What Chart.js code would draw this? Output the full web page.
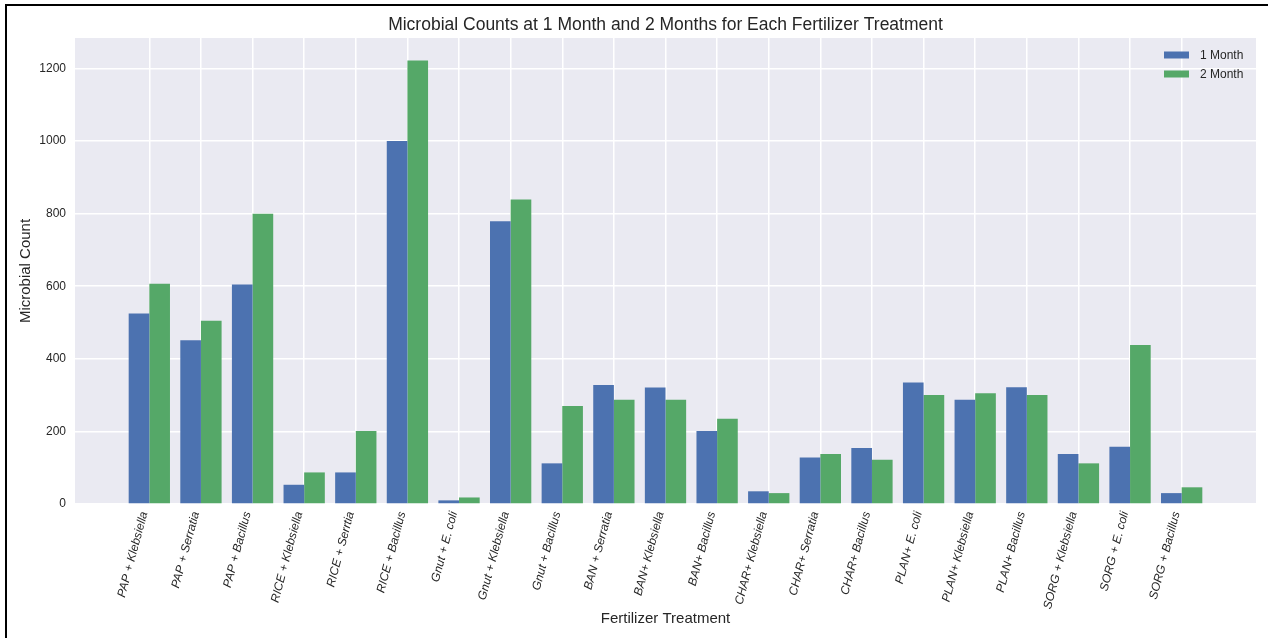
<!DOCTYPE html>
<html>
<head>
<meta charset="utf-8">
<script src="https://cdn.jsdelivr.net/npm/chart.js@4.4.1/dist/chart.umd.min.js"></script>
<style>
  html, body { margin: 0; padding: 0; background: #ffffff; }
  #wrap { position: relative; width: 1268px; height: 638px; }
  #frame { position: absolute; left: 5px; top: 4px; right: -10px; bottom: -10px; border-left: 2.5px solid #000; border-top: 2.5px solid #000; pointer-events: none; }
  canvas { position: absolute; left: 0; top: 0; }
</style>
</head>
<body>
<div id="wrap">
  <canvas id="c" width="1268" height="638"></canvas>
  <div id="frame"></div>
</div>
<script>
const categories = [
  'PAP + Klebsiella', 'PAP + Serratia', 'PAP + Bacillus',
  'RICE + Klebsiella', 'RICE + Serrtia', 'RICE + Bacillus',
  'Gnut + E. coli', 'Gnut + Klebsiella', 'Gnut + Bacillus',
  'BAN + Serratia', 'BAN+ Klebsiella', 'BAN+ Bacillus',
  'CHAR+ Klebsiella', 'CHAR+ Serratia', 'CHAR+ Bacillus',
  'PLAN+ E. coli', 'PLAN+ Klebsiella', 'PLAN+ Bacillus',
  'SORG + Klebsiella', 'SORG + E. coli', 'SORG + Bacillus'
];
const month1 = [525, 451, 605, 53, 87, 1000, 10, 779, 112, 328, 321, 201, 35, 128, 154, 335, 287, 322, 138, 158, 30];
const month2 = [607, 505, 800, 87, 201, 1222, 18, 839, 270, 287, 287, 235, 30, 138, 122, 300, 305, 300, 112, 438, 46];
const seriesNames = ['1 Month', '2 Month'];
const seriesColors = ['#4C72B0', '#55A868'];
const yTicks = [0, 200, 400, 600, 800, 1000, 1200];
const yMax = 1284;
const xMin = -1.44, xMax = 21.44;

const FONT = "'Liberation Sans', Arial, sans-serif";
const TEXT = '#262626';

const bgPlugin = {
  id: 'plotBg',
  beforeDraw(chart) {
    const {ctx, chartArea: a} = chart;
    ctx.save();
    ctx.fillStyle = '#EAEAF2';
    ctx.fillRect(a.left, a.top, a.right - a.left, a.bottom - a.top);
    ctx.restore();
  }
};

const legendPlugin = {
  id: 'innerLegend',
  afterDatasetsDraw(chart) {
    const {ctx, chartArea: a} = chart;
    ctx.save();
    ctx.font = '12px ' + FONT;
    ctx.textBaseline = 'middle';
    ctx.textAlign = 'left';
    chart.data.datasets.forEach((ds, i) => {
      const y = a.top + 17 + i * 19;
      ctx.fillStyle = ds.backgroundColor;
      ctx.fillRect(a.right - 92, y - 3.5, 25, 7);
      ctx.fillStyle = TEXT;
      ctx.fillText(ds.label, a.right - 56, y + 0.5);
    });
    ctx.restore();
  }
};

new Chart(document.getElementById('c'), {
  type: 'bar',
  data: {
    datasets: seriesNames.map((name, k) => ({
      label: name,
      data: (k === 0 ? month1 : month2).map((v, i) => ({x: i, y: v})),
      backgroundColor: seriesColors[k],
      borderWidth: 0,
      categoryPercentage: 0.8,
      barPercentage: 1.0
    }))
  },
  options: {
    responsive: false,
    animation: false,
    devicePixelRatio: 1,
    layout: { padding: { left: 10, right: 12, top: 0, bottom: 8 } },
    plugins: {
      legend: { display: false },
      tooltip: { enabled: false },
      title: {
        display: true,
        text: 'Microbial Counts at 1 Month and 2 Months for Each Fertilizer Treatment',
        fullSize: false,
        color: TEXT,
        font: { family: FONT, size: 17.5, weight: 'normal' },
        padding: { top: 15, bottom: 2 }
      }
    },
    scales: {
      x: {
        type: 'linear',
        min: xMin,
        max: xMax,
        offset: false,
        afterBuildTicks(scale) { scale.ticks = categories.map((_, i) => ({ value: i })); },
        afterFit(scale) { scale.height = 126; },
        grid: { color: '#ffffff', lineWidth: 1.5, drawTicks: false, offset: false },
        border: { display: false },
        ticks: {
          autoSkip: false,
          maxRotation: 75,
          minRotation: 75,
          padding: 6,
          labelOffset: -5,
          color: TEXT,
          font: { family: FONT, size: 12, style: 'italic' },
          callback: (v) => categories[v] ?? ''
        },
        title: {
          display: true,
          text: 'Fertilizer Treatment',
          color: TEXT,
          font: { family: FONT, size: 15 },
          padding: { top: 0, bottom: 2 }
        }
      },
      y: {
        min: 0,
        max: yMax,
        afterBuildTicks(scale) { scale.ticks = yTicks.map(v => ({ value: v })); },
        afterFit(scale) { scale.width = 65; },
        grid: { color: '#ffffff', lineWidth: 1.5, drawTicks: false },
        border: { display: false },
        ticks: {
          padding: 9,
          color: TEXT,
          font: { family: FONT, size: 12 },
          callback: (v) => String(v)
        },
        title: {
          display: true,
          text: 'Microbial Count',
          color: TEXT,
          font: { family: FONT, size: 15 },
          padding: { top: 7, bottom: 0 }
        }
      }
    }
  },
  plugins: [bgPlugin, legendPlugin]
});
</script>
</body>
</html>
